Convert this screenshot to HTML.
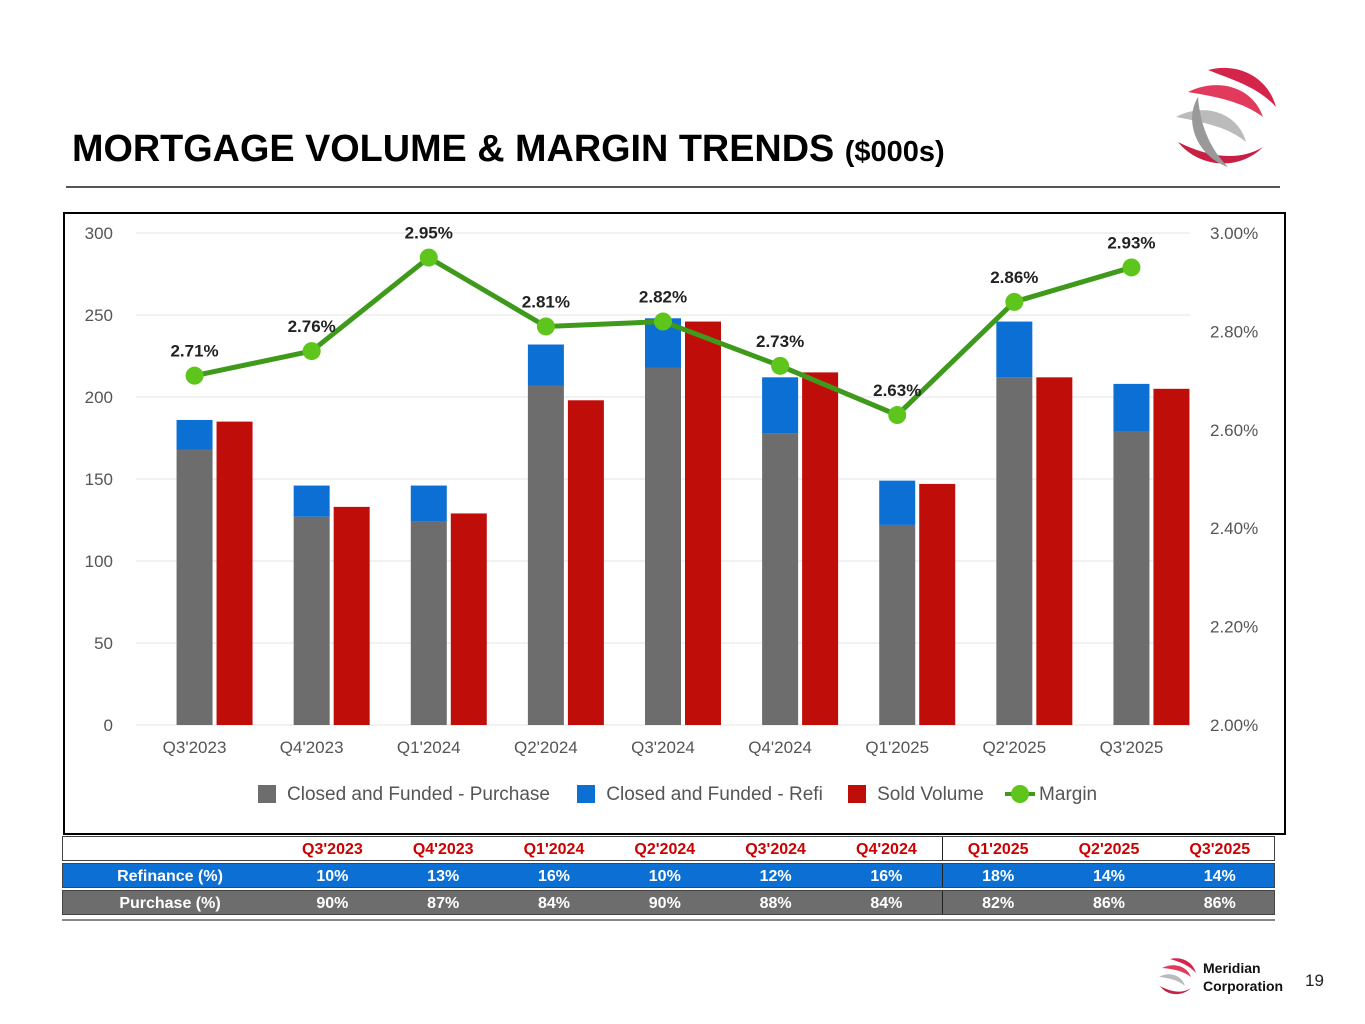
<!DOCTYPE html>
<html><head><meta charset="utf-8"><style>
body{margin:0;width:1365px;height:1024px;background:#fff;font-family:"Liberation Sans",sans-serif;position:relative;overflow:hidden}
.abs{position:absolute}
</style></head><body>
<div class="abs" style="left:72px;top:128px;font-size:37.8px;font-weight:bold;color:#000;white-space:nowrap">MORTGAGE VOLUME &amp; MARGIN TRENDS <span style="font-size:29px">($000s)</span></div>
<div class="abs" style="left:66px;top:186px;width:1214px;height:2px;background:#555"></div>
<svg class="abs" style="left:1168px;top:62px" width="115" height="115" viewBox="0 0 115 115">
<path d="M40 8 C70 0 100 15 108 45 C90 25 65 18 40 8Z" fill="#d4244a"/>
<path d="M20 30 C50 15 85 25 95 55 C75 40 50 35 20 30Z" fill="#e23a5c"/>
<path d="M8 55 C35 40 70 50 78 80 C60 65 35 60 8 55Z" fill="#bbb"/>
<path d="M10 80 C30 105 70 110 95 85 C70 100 40 95 10 80Z" fill="#c81f45"/>
<path d="M30 35 C15 60 30 95 60 105 C40 85 32 60 30 35Z" fill="#999"/>
</svg>
<div class="abs" style="left:63px;top:212px;width:1219px;height:619px;border:2px solid #000"></div>
<svg class="abs" id="chart" style="left:0;top:0" width="1365" height="840"></svg>
<div class="abs" style="left:258px;top:784px;font-size:19px;color:#555;white-space:nowrap">
<span><span style="display:inline-block;width:18px;height:18px;background:#6d6d6d;vertical-align:-3px;margin-right:11px"></span>Closed and Funded - Purchase</span>
<span style="margin-left:22px"><span style="display:inline-block;width:18px;height:18px;background:#0b6fd3;vertical-align:-3px;margin-right:11px"></span>Closed and Funded - Refi</span>
<span style="margin-left:20px"><span style="display:inline-block;width:18px;height:18px;background:#bf0e0a;vertical-align:-3px;margin-right:11px"></span>Sold Volume</span>
<span style="margin-left:16px"><span style="display:inline-block;position:relative;width:30px;height:18px;vertical-align:-3px;margin-right:4px"><span style="position:absolute;left:0;top:7px;width:30px;height:4px;background:#3f9a1c"></span><span style="position:absolute;left:6px;top:0;width:18px;height:18px;border-radius:50%;background:#5ec51c"></span></span>Margin</span>
</div>
<div class="abs" id="tbl" style="left:62px;top:836px;width:1213px"></div>
<div class="abs" style="left:62px;top:919px;width:1213px;height:2px;background:#888"></div>
<svg class="abs" style="left:1156px;top:956px" width="42" height="42" viewBox="0 0 42 42">
<path d="M14 3 C26 0 37 6 40 17 C33 9 24 6 14 3Z" fill="#d4244a"/><path d="M6 12 C18 6 31 10 35 21 C27 15 18 13 6 12Z" fill="#e23a5c"/><path d="M3 21 C13 15 26 19 29 30 C22 24 13 22 3 21Z" fill="#bbb"/><path d="M4 30 C11 40 26 41 35 32 C26 38 15 36 4 30Z" fill="#c81f45"/></svg>
<div class="abs" style="left:1203px;top:959px;font-size:14px;font-weight:bold;line-height:18px;color:#111">Meridian<br>Corporation</div>
<div class="abs" style="left:1305px;top:971px;font-size:17px;color:#222">19</div>
<script>
const categories=["Q3'2023","Q4'2023","Q1'2024","Q2'2024","Q3'2024","Q4'2024","Q1'2025","Q2'2025","Q3'2025"];
const purchase=[168,127,124,207,218,178,122,212,179];
const refi=[18,19,22,25,30,34,27,34,29];
const sold=[185,133,129,198,246,215,147,212,205];
const margin=[2.71,2.76,2.95,2.81,2.82,2.73,2.63,2.86,2.93];
const leftTicks=[0,50,100,150,200,250,300];
const rightTicks=[2.0,2.2,2.4,2.6,2.8,3.0];
const refiPct=["10%","13%","16%","10%","12%","16%","18%","14%","14%"];
const purchPct=["90%","87%","84%","90%","88%","84%","82%","86%","86%"];
const NS="http://www.w3.org/2000/svg";
const svg=document.getElementById('chart');
const X0=136,X1=1190,Y0=725,Y1=233;
const bw=(X1-X0)/categories.length;
const yL=v=>Y0-(v/300)*(Y0-Y1);
const yR=v=>Y0-((v-2)/1)*(Y0-Y1);
const xC=i=>X0+bw*(i+0.5);
function el(t,a){const e=document.createElementNS(NS,t);for(const k in a)e.setAttribute(k,a[k]);svg.appendChild(e);return e;}
leftTicks.forEach(t=>{
 const g=el('line',{x1:X0,x2:X1,y1:yL(t),y2:yL(t),stroke:'#e3e3e3','stroke-width':1});
 
 
 const tx=el('text',{x:113,y:yL(t)+6,'text-anchor':'end','font-size':17,fill:'#555'});tx.textContent=t;
 
 
});
rightTicks.forEach(t=>{
 const tx=el('text',{x:1210,y:yR(t)+6,'font-size':17,fill:'#555'});tx.textContent=t.toFixed(2)+'%';
 
 
});
categories.forEach((c,i)=>{
 const cx=xC(i);
 const p=el('rect',{x:cx-18,y:yL(purchase[i]),width:36,height:Y0-yL(purchase[i]),fill:'#6d6d6d'});
 
 
 const r=el('rect',{x:cx-18,y:yL(purchase[i]+refi[i]),width:36,height:yL(purchase[i])-yL(purchase[i]+refi[i]),fill:'#0b6fd3'});
 
 
 const s=el('rect',{x:cx+22,y:yL(sold[i]),width:36,height:Y0-yL(sold[i]),fill:'#bf0e0a'});
 
 
 const tx=el('text',{x:cx+0,y:753,'text-anchor':'middle','font-size':17,fill:'#555'});tx.textContent=c;
 
 
});
const pl=el('polyline',{points:margin.map((m,i)=>xC(i)+','+yR(m)).join(' '),fill:'none',stroke:'#3f9a1c','stroke-width':5});


margin.forEach((m,i)=>{
 const c=el('circle',{cx:xC(i),cy:yR(m),r:9,fill:'#5ec51c'});
 
 
 const t=el('text',{x:xC(i),y:yR(m)-19,'text-anchor':'middle','font-size':17,'font-weight':'bold',fill:'#222'});t.textContent=m.toFixed(2)+'%';
 
 
});
const tbl=document.getElementById('tbl');
function row(label,vals,bg,col,name){
 const d=document.createElement('div');
 
 
 d.style.cssText='display:flex;height:25px;line-height:25px;font-size:16px;font-weight:bold;margin-bottom:2px;background:'+bg+';color:'+col+';border:1px solid #444;box-sizing:border-box';
 let h='<div style="width:214px;flex:none;text-align:center">'+label+'</div>';
 vals.forEach((v,i)=>{h+='<div style="width:110.8px;flex:none;text-align:center;'+(i==6?'border-left:1px solid #222':'')+'">'+v+'</div>';});
 d.innerHTML=h;tbl.appendChild(d);
}
row('',categories,'#fff','#c00','table-header-row');
row('Refinance (%)',refiPct,'#0b6fd3','#fff','table-refinance-row');
row('Purchase (%)',purchPct,'#6d6d6d','#fff','table-purchase-row');
</script>
</body></html>
